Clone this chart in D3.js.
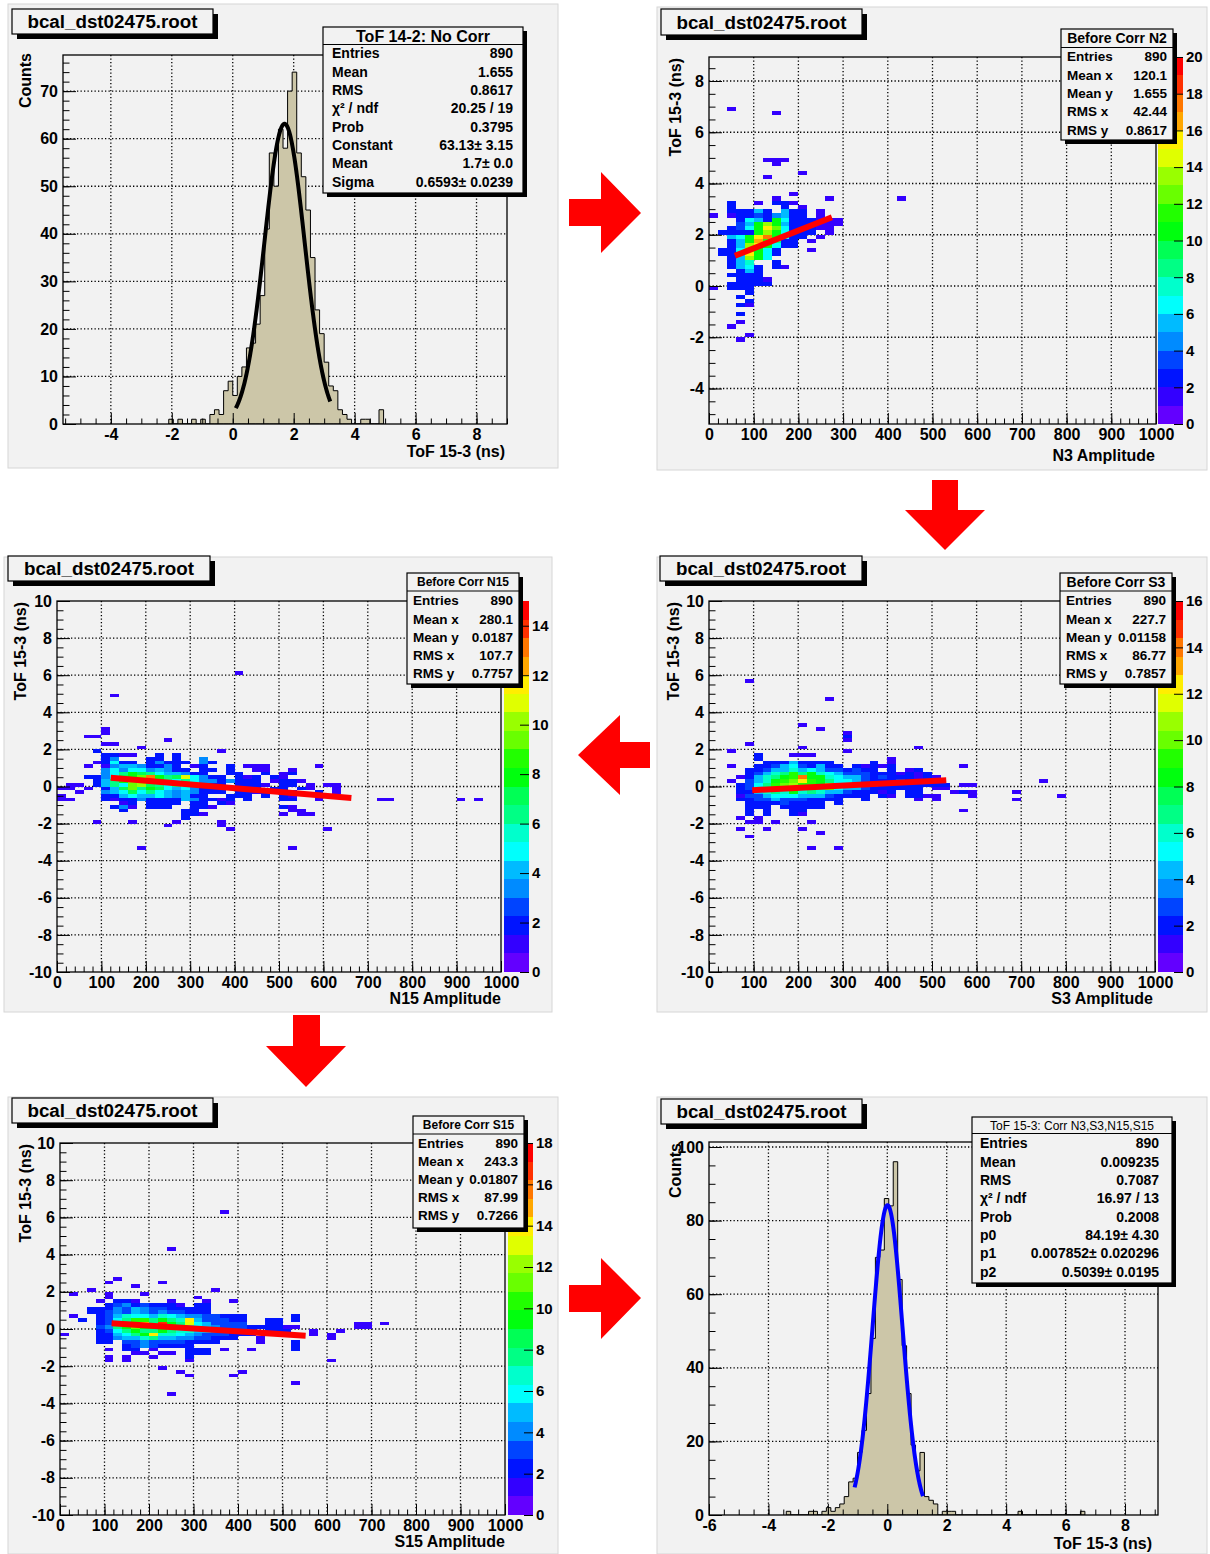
<!DOCTYPE html>
<html><head><meta charset="utf-8">
<script src="https://cdn.jsdelivr.net/npm/d3@7/dist/d3.min.js"></script>
<style>
html,body{margin:0;padding:0;background:#fff;}
svg{display:block;}
</style></head>
<body>
<svg id="chart" width="1210" height="1554" xmlns="http://www.w3.org/2000/svg"></svg>
<script>
// ===================== DATA =====================
const fileName = "bcal_dst02475.root";

// ---- Panel 1 : ToF 14-2, no correction (1D histogram) ----
const tof1Title = "ToF 14-2: No Corr";
const tof1XTitle = "ToF 15-3 (ns)";
const tof1YTitle = "Counts";
const tof1XRange = [-5.57, 9.0];
const tof1YRange = [0, 77.6];
const tof1XTicks = [-4, -2, 0, 2, 4, 6, 8];
const tof1YTicks = [0, 10, 20, 30, 40, 50, 60, 70];
const tof1BinStart = -2.1;
const tof1BinWidth = 0.15;
const tof1Counts = [1,0,1,0,0,1,0,1,0,2,3,2,7,9,6,10,12,16,17,21,27,41,57,50,62,58,70,74,57,52,45,35,24,19,13,8,7,3,2,1,0,0,1,1,0,0,3];
const tof1Fit = [63.13, 1.7, 0.6593];      // constant, mean, sigma
const tof1FitRange = [0.1, 3.2];
const tof1Stats = [["Entries","890"],["Mean","1.655"],["RMS","0.8617"],["\u03c7\u00b2 / ndf","20.25 / 19"],["Prob","0.3795"],["Constant","63.13\u00b1 3.15"],["Mean","1.7\u00b1 0.0"],["Sigma","0.6593\u00b1 0.0239"]];

// ---- Panel 6 : ToF 15-3 after corrections (1D histogram) ----
const tof6Title = "ToF 15-3: Corr N3,S3,N15,S15";
const tof6XRange = [-6, 9.11];
const tof6YRange = [0, 101.36];
const tof6XTicks = [-6, -4, -2, 0, 2, 4, 6, 8];
const tof6YTicks = [0, 20, 40, 60, 80, 100];
const tof6BinStart = -3.4;
const tof6BinWidth = 0.15;
const tof6Counts = [1,0,0,0,0,1,1,0,1,2,1,2,3,5,9,10,17,23,33,48,70,72,86,84,96,64,46,33,19,12,17,5,4,3,0,1,1,1,
  0,0,0,0,0,0,0,0,0,0,0,0,0,0,1,0,0,0,0,0,0,0,0,0,0,0,0,0,1];
const tof6Fit = [84.19, 0.007852, 0.5039]; // p0, p1, p2
const tof6FitRange = [-1.1, 1.2];
const tof6Stats = [["Entries","890"],["Mean","0.009235"],["RMS","0.7087"],["\u03c7\u00b2 / ndf","16.97 / 13"],["Prob","0.2008"],["p0","84.19\u00b1 4.30"],["p1","0.007852\u00b1 0.020296"],["p2","0.5039\u00b1 0.0195"]];

// ---- 2D panels: common axes ----
const ampRange = [0, 1000];
const ampTicks = [0, 100, 200, 300, 400, 500, 600, 700, 800, 900, 1000];
const tofTicks = [-10, -8, -6, -4, -2, 0, 2, 4, 6, 8, 10];
const tofYTitle = "ToF 15-3 (ns)";

// Rows of cells: [yBinIndex, firstXBinIndex, count, count, ...]
// ---- Panel 2 : Before Corr N2 (N3 amplitude) ----
const n3Title = "Before Corr N2";
const n3XTitle = "N3 Amplitude";
const n3YRange = [-5.385, 8.937];
const n3BinX = 20, n3BinY = 1/6;
const n3ZMax = 20;
const n3ZTicks = [0,2,4,6,8,10,12,14,16,18,20];
const n3Fit = [58, 275, 0.78, 0.00691];   // xFrom, xTo, a, b
const n3Stats = [["Entries","890"],["Mean x","120.1"],["Mean y","1.655"],["RMS x","42.44"],["RMS y","0.8617"]];
const n3Rows = [
[41,2,1],[40,7,1],[29,6,1,1,1],[28,7,1],[26,10,1],[25,6,1],[21,9,1],
[20,7,1],[20,13,1],[20,21,1],
[19,2,2],[19,5,1,0,2,2,1],
[18,2,2],[18,8,2,0,1],
[17,2,2,2,2,5,2,0,5,2,2],[17,12,1],
[16,0,1],[16,2,1,2,2,3,2,4,5,2,2],[16,12,1],
[15,3,2,6,5,2,10,6,2,2,2,1,1,1],
[14,3,3,5,10,13,10,5,2,2,2,1,1,1],
[13,2,2,3,6,10,15,12,6,2,2,2,1,1],
[12,1,2,2,2,2,10,13,10,6,2,2,2,0,1],
[11,2,5,6,10,15,17,10,6,2,2,0,1],
[10,2,2,5,10,16,11,8,2,2,0,1],
[9,2,2,5,13,15,10,6,2,2],
[8,1,2,2,6,13,10,6,2,0,0,0,1],
[7,1,2,2,5,15,10,6,2],
[6,2,2,5,13,10,6],
[5,2,2,5,7,0,0,2],
[4,2,2,5,6,2,0,2,1],
[3,3,2,5,2],
[2,2,2,2,2,2],
[1,3,2,2,2,1],
[0,2,2,2,2,2,2],
[-1,0,1,0,2,2,2],
[-2,4,2],[-3,3,2],[-4,4,2],[-5,3,2,1],[-7,3,2],[-9,3,1],[-10,2,1],[-12,4,1],[-13,3,1]
];

// ---- Panel 3 : Before Corr N15 ----
const n15Title = "Before Corr N15";
const n15XTitle = "N15 Amplitude";
const n15BinX = 20, n15BinY = 0.2;
const n15ZMax = 15;
const n15ZTicks = [0,2,4,6,8,10,12,14];
const n15Fit = [121, 663, 0.71, -0.0020];
const n15Stats = [["Entries","890"],["Mean x","280.1"],["Mean y","0.0187"],["RMS x","107.7"],["RMS y","0.7757"]];
const n15Rows = [
[30,20,1],[24,6,1],[15,5,1],[14,5,1],[13,3,1,1],[12,12,1],[11,5,1,1],[10,9,1],
[9,4,2],[9,18,1],
[8,5,2,2,1,1],[8,11,2],[8,13,2],
[7,5,2,3],[7,10,2,2,0,2],[7,16,3],
[6,4,1,2,5,2,2,0,2,3,2,2,2,0,3,2],
[5,3,1,0,1,3,4,4,3,2,2,3,2,0,1,2],[5,19,2,0,1,1,1],[5,29,1],
[4,5,3,5,3,5,5,3,4,3,2,2,0,2,2,0,2],[4,22,1,1],[4,26,1],
[3,5,3,5,6,8,7,6,5,4,4,3,2,2,0,0,2,2,0,0,2,0,1,2],
[2,3,2,2,3,5,7,8,9,13,8,6,7,11,5,3,2,2,0,2,1,2,0,2,1],
[1,4,2,4,6,8,9,10,8,8,6,5,6,5,3,3,2,3,2,2,2,0,1,2,2,1],
[0,1,1,1,0,2,4,6,5,9,10,7,6,5,6,5,4,3,2,2,0,2,2,2,1,0,2,2,0,1,0,1,1],
[-1,0,1,1,0,1,0,2,4,7,9,6,8,7,5,4,5,3,2,2,2,3,2,1,2,0,2,2,0,2,1,0,0,1],
[-2,2,1,0,0,3,4,5,7,5,6,5,4,3,4,3,2,2,2,0,2,2,1,2,0,2,2,0,0,2,0,1],
[-3,0,1,0,0,0,0,2,2,4,5,4,4,5,4,3,4,2,2,0,0,2,2,2,0,2,0,2,1,0,0,2],
[-4,0,1,1,0,0,0,2,1,2,2,3,2,2,2,2,4,3,2,2,1,2,0,2,0,0,0,2,2,0,0,1],[-4,36,1,1],[-4,45,1,0,1],
[-5,7,1,2,0,2,2,2,2,0,2,2,0,2,1],
[-6,6,2,3,1,0,2,2,2,0,0,2,2,1],[-6,25,2,1],
[-7,7,2],[-7,14,2,2],[-7,26,1,1],
[-8,14,2,2,1],[-8,25,1,0,1,1],
[-9,14,2],
[-10,4,1],[-10,8,1],[-10,13,1],[-10,18,1],
[-11,12,1],[-11,18,1],
[-12,19,1],[-12,30,1],
[-17,9,1],[-17,26,1]
];

// ---- Panel 4 : Before Corr S3 ----
const s3Title = "Before Corr S3";
const s3XTitle = "S3 Amplitude";
const s3BinX = 20, s3BinY = 0.2;
const s3ZMax = 16;
const s3ZTicks = [0,2,4,6,8,10,12,14,16];
const s3Fit = [97, 532, -0.32, 0.00124];
const s3Stats = [["Entries","890"],["Mean x","227.7"],["Mean y","0.01158"],["RMS x","86.77"],["RMS y","0.7857"]];
const s3Rows = [
[28,4,1],[23,13,1],[16,10,1],[15,12,1],
[14,15,1],[13,15,2],[12,15,1],[11,4,1],
[10,10,1],[10,23,1],[9,2,1],[9,15,1],
[8,5,2],[8,9,1,1,1],[7,5,2],[7,20,1],
[6,6,2,2,2,4,2,2,2,2],[6,18,2,0,1],
[5,2,1,0,0,2,2,3,4,5,3,2,4,2,2,0,2,1,2,1,2],[5,28,1],
[4,4,2,2,3,4,4,6,4,5,4,3,3,2,3,2,2,0,2,0,1,2],
[3,4,2,3,4,6,7,9,7,8,6,5,4,3,3,3,2,2,2,1,2,1,2],
[2,3,1,2,4,6,7,8,9,14,8,8,6,5,4,4,3,2,3,2,2,2,1,2,1],
[1,2,1,0,3,4,6,8,9,10,12,9,8,7,5,5,4,3,2,2,2,3,2,2,2,2],[1,37,1],
[0,3,2,3,5,7,9,10,11,9,9,8,11,5,4,4,3,3,2,2,2,2,2,2,2,2,0,1,1],
[-1,3,2,3,5,7,13,8,10,8,8,7,10,5,4,4,3,2,2,2,2,2,2,0,1,1],
[-2,3,2,2,4,6,7,6,8,6,7,6,4,4,3,2,2,2,1,2,0,2,2,0,0,0,1,2,1],[-2,34,1],
[-3,3,1,3,3,4,5,5,5,4,4,4,3,2,2,2,2,0,2,1,0,2,2,1,1,0,0,0,1],[-3,39,1],
[-4,3,2,2,3,3,4,3,3,3,2,2,2,2,0,0,2],[-4,23,1,0,1],[-4,34,1],
[-5,4,2,2,2,2,3,2,2,2,2,0,2],
[-6,4,2,2,2,0,2,2,2,2,2],
[-7,4,2,0,2,0,0,2,2],[-7,28,1],
[-8,4,2,0,2,0,0,2,1],
[-9,3,1,0,1],
[-10,4,1,1,0,1],[-10,11,1],
[-12,3,1],[-12,6,1],[-12,10,1],[-13,12,1],
[-14,4,1],
[-17,11,1],[-17,14,1]
];

// ---- Panel 5 : Before Corr S15 ----
const s15Title = "Before Corr S15";
const s15XTitle = "S15 Amplitude";
const s15BinX = 20, s15BinY = 0.2;
const s15ZMax = 18;
const s15ZTicks = [0,2,4,6,8,10,12,14,16,18];
const s15Fit = [116, 552, 0.49, -0.00154];
const s15Stats = [["Entries","890"],["Mean x","243.3"],["Mean y","0.01807"],["RMS x","87.99"],["RMS y","0.7266"]];
const s15Rows = [
[31,18,1],[21,12,1],
[13,6,1],[12,5,1],[12,11,1],[11,8,1],
[10,3,1],[10,17,1],
[9,1,1],[9,5,1],[9,9,1],[8,5,1],[8,15,1],
[7,4,1,0,2,2,1],[7,12,1],[7,16,1],[7,19,1],
[6,5,2,3,4,2,3,2,2,2,1,0,2,2],
[5,3,2,2,2,4,3,5,4,3,3,2,2,2,2,2],
[4,3,2,2,3,4,3,5,4,3,4,3,3,2,2,2],
[3,1,1,0,0,2,3,5,7,6,6,5,7,6,5,4,4,3,3,2,2,2],[3,26,2],
[2,2,2,0,2,3,6,8,10,10,8,9,8,7,14,5,3,3,3,2,2],[2,23,2,2,0,2],
[1,4,2,3,7,8,9,14,8,17,9,8,13,6,5,3,3,3,3],[1,23,2,2],[1,33,1,1,0,1],
[0,4,3,4,8,9,11,9,9,10,9,8,7,6,5,4,3,3,3,2,2,2,2,1,1],[0,33,1,1],
[-1,4,2,3,6,8,9,8,8,9,8,7,7,5,5,4,3,3,3,2,0,2,2,2],[-1,28,1,0,0,1],
[-2,0,1],[-2,4,2,2,5,6,8,9,14,7,7,6,5,4,3,3,3,2,2,2],[-2,28,1,0,1],
[-3,4,2,2,4,5,5,7,8,5,5,4,4,3,3,2,2,2,0,0,1],[-3,30,1],
[-4,4,2,2,0,3,3,4,3,3,3,3,2,2,2,2,0,0,0,0,1],[-4,26,2],
[-5,7,2,3,4,3,2,2,2,2],[-5,26,2],
[-6,5,1,0,2,2,0,1,0,0,0,2,2,2,0,1,0,0,1],[-6,26,2],
[-7,8,1,1,0,1,1,0,2,2,2],
[-8,5,1,0,1,0,0,1,0,0,0,2],
[-9,5,1,0,1,0,0,0,0,0,0,1],[-9,30,1],
[-11,11,1],
[-12,13,1],[-12,20,1],
[-13,14,1],[-13,19,1],
[-15,26,1],
[-18,12,1]
];

// ===================== DRAWING =====================
const FONT = '"Liberation Sans", Arial, Helvetica, sans-serif';
const BG = "#f2f2f2";
const svg = d3.select("#chart");
const defs = svg.append("defs");
let clipN = 0;

function level(c, zmax){ return Math.max(0, Math.min(19, Math.floor(0.01 + c * 20 / zmax))); }
function levelColor(l){ const idx = Math.floor((l + 0.99) * 50 / 20); const hue = 280 - (idx + 1) * 5.6; return d3.hsl(hue, 1, 0.5).formatHex(); }
const inDomain = (v, d) => v >= Math.min(d[0], d[1]) - 1e-9 && v <= Math.max(d[0], d[1]) + 1e-9;

function drawCanvas(c){
  svg.append("rect").attr("x",c[0]).attr("y",c[1]).attr("width",c[2]).attr("height",c[3])
    .attr("fill",BG).attr("stroke","#d6d6d6").attr("stroke-width",1);
}
function drawTitleBox(b, text){
  svg.append("rect").attr("x",b[0]+5).attr("y",b[1]+5).attr("width",b[2]).attr("height",b[3]).attr("fill","#000");
  svg.append("rect").attr("x",b[0]).attr("y",b[1]).attr("width",b[2]).attr("height",b[3])
    .attr("fill",BG).attr("stroke","#000").attr("stroke-width",1.2);
  svg.append("text").attr("x",b[0]+b[2]/2).attr("y",b[1]+b[3]/2+6.7).attr("text-anchor","middle")
    .attr("font-family",FONT).attr("font-weight","bold").attr("font-size",18.8).text(text);
}
function drawStats(s, title, rows){
  svg.append("rect").attr("x",s.x+4).attr("y",s.y+4).attr("width",s.w).attr("height",s.h).attr("fill","#000");
  svg.append("rect").attr("x",s.x).attr("y",s.y).attr("width",s.w).attr("height",s.h)
    .attr("fill",BG).attr("stroke","#000").attr("stroke-width",1.2);
  svg.append("line").attr("x1",s.x).attr("x2",s.x+s.w).attr("y1",s.sep).attr("y2",s.sep).attr("stroke","#000").attr("stroke-width",1.2);
  svg.append("text").attr("x",s.x+s.w/2).attr("y",(s.y+s.sep)/2+0.36*s.ts).attr("text-anchor","middle")
    .attr("font-family",FONT).attr("font-weight",s.tw).attr("font-size",s.ts).text(title);
  rows.forEach((r,i)=>{
    const yy = s.r0 + i*s.rs + 0.36*s.fs;
    svg.append("text").attr("x",s.lx).attr("y",yy).attr("font-family",FONT).attr("font-weight","bold").attr("font-size",s.fs).text(r[0]);
    svg.append("text").attr("x",s.vx).attr("y",yy).attr("text-anchor","end").attr("font-family",FONT).attr("font-weight","bold").attr("font-size",s.fs).text(r[1]);
  });
}
function axisTitles(L, xt, yt){
  svg.append("text").attr("transform",`translate(${L.yTitle[0]},${L.yTitle[1]}) rotate(-90)`).attr("text-anchor","end")
    .attr("font-family",FONT).attr("font-weight","bold").attr("font-size",16).text(yt);
  svg.append("text").attr("x",L.xTitle[0]).attr("y",L.xTitle[1]).attr("text-anchor","end")
    .attr("font-family",FONT).attr("font-weight","bold").attr("font-size",16).text(xt);
}
function makeFrame(f, xDomain, yDomain, xTicks, yTicks){
  const g = svg.append("g").attr("transform",`translate(${f[0]},${f[1]})`);
  const W = f[2], H = f[3];
  const xs = d3.scaleLinear().domain(xDomain).range([0,W]);
  const ys = d3.scaleLinear().domain(yDomain).range([H,0]);
  const xT = xTicks.filter(v => inDomain(v, xDomain));
  const yT = yTicks.filter(v => inDomain(v, yDomain));
  const id = "clip" + (clipN++);
  defs.append("clipPath").attr("id",id).append("rect").attr("width",W).attr("height",H);
  const grid = g.append("g").attr("stroke","#000").attr("stroke-width",1.3).attr("stroke-dasharray","1.3,2.2");
  xT.forEach(v=>{ const x = xs(v); if (x > 1 && x < W-1) grid.append("line").attr("x1",x).attr("x2",x).attr("y1",0).attr("y2",H); });
  yT.forEach(v=>{ const y = ys(v); if (y > 1 && y < H-1) grid.append("line").attr("x1",0).attr("x2",W).attr("y1",y).attr("y2",y); });
  const content = g.append("g").attr("clip-path",`url(#${id})`);
  return {g, xs, ys, W, H, content, xDomain, yDomain, xTicks:xT, yTicks:yT};
}
function finishAxes(P, xMinorStep, yMinorStep){
  const {g, xs, ys, W, H} = P;
  const fmt = v => (Math.abs(v) < 1e-9 ? "0" : String(v));
  const mk = (d, step) => d3.range(Math.ceil(d[0]/step - 1e-9)*step, d[1] + 1e-9, step).filter(v => inDomain(v, d));
  const style = s => s.attr("font-size",16).attr("font-family",FONT).attr("font-weight","bold");
  g.append("g").attr("transform",`translate(0,${H})`)
    .call(d3.axisBottom(xs).tickValues(mk(P.xDomain, xMinorStep)).tickSize(-5.5).tickFormat(""))
    .call(a=>a.select(".domain").remove());
  g.append("g").attr("transform",`translate(0,${H})`)
    .call(d3.axisBottom(xs).tickValues(P.xTicks).tickSize(-11).tickPadding(5).tickFormat(fmt))
    .call(a=>a.select(".domain").remove()).call(style);
  g.append("g")
    .call(d3.axisLeft(ys).tickValues(mk(P.yDomain, yMinorStep)).tickSize(-6.5).tickFormat(""))
    .call(a=>a.select(".domain").remove());
  g.append("g")
    .call(d3.axisLeft(ys).tickValues(P.yTicks).tickSize(-13).tickPadding(5).tickFormat(fmt))
    .call(a=>a.select(".domain").remove()).call(style);
  g.append("rect").attr("width",W).attr("height",H).attr("fill","none").attr("stroke","#000").attr("stroke-width",1.3);
}

function panel1D(L, D){
  drawCanvas(L.canvas);
  const P = makeFrame(L.frame, D.xRange, D.yRange, D.xTicks, D.yTicks);
  const bins = D.counts.map((c,i)=>[D.start + i*D.width, c]);
  bins.push([D.start + D.counts.length*D.width, D.counts[D.counts.length-1]]);
  const area = d3.area().curve(d3.curveStepAfter).x(d=>P.xs(d[0])).y0(P.ys(0)).y1(d=>P.ys(d[1]));
  P.content.append("path").attr("d",area(bins)).attr("fill","#ccc6a8").attr("stroke","#000").attr("stroke-width",1);
  const gauss = x => D.fit[0]*Math.exp(-0.5*Math.pow((x - D.fit[1])/D.fit[2],2));
  const xsF = d3.range(0, 201).map(i => D.fitRange[0] + (D.fitRange[1]-D.fitRange[0])*i/200);
  P.content.append("path").attr("d", d3.line().x(x=>P.xs(x)).y(x=>P.ys(gauss(x)))(xsF))
    .attr("fill","none").attr("stroke",D.fitColor).attr("stroke-width",4).attr("stroke-linejoin","round");
  finishAxes(P, D.xMinor, D.yMinor);
  axisTitles(L, D.xTitle, D.yTitle);
  drawTitleBox(L.titleBox, fileName);
  drawStats(L.stats, D.title, D.stats);
}

function panel2D(L, D){
  drawCanvas(L.canvas);
  const P = makeFrame(L.frame, ampRange, D.yRange, ampTicks, D.yTicks);
  const cg = P.content.append("g").attr("shape-rendering","crispEdges");
  D.rows.forEach(r=>{
    const iy = r[0], ix0 = r[1];
    r.slice(2).forEach((c,k)=>{
      if (c <= 0) return;
      const ix = ix0 + k;
      const x0 = P.xs(ix*D.bx), x1 = P.xs((ix+1)*D.bx);
      const yT = P.ys((iy+1)*D.by), yB = P.ys(iy*D.by);
      cg.append("rect").attr("x",x0).attr("y",yT).attr("width",x1-x0).attr("height",yB-yT)
        .attr("fill",levelColor(level(c, D.zmax)));
    });
  });
  const f = D.fit;
  P.content.append("path").attr("d", d3.line().x(d=>P.xs(d)).y(d=>P.ys(f[2]+f[3]*d))([f[0], f[1]]))
    .attr("fill","none").attr("stroke","#ff0000").attr("stroke-width",6);
  finishAxes(P, 20, 0.5);
  // palette
  const [fx, fy, fw, fh] = L.frame;
  const zs = d3.scaleLinear().domain([0, D.zmax]).range([fy+fh, fy]);
  const pg = svg.append("g").attr("shape-rendering","crispEdges");
  for (let l = 0; l < 20; l++){
    const z0 = l*D.zmax/20, z1 = (l+1)*D.zmax/20;
    pg.append("rect").attr("x",L.palette[0]).attr("y",zs(z1)).attr("width",L.palette[1]).attr("height",zs(z0)-zs(z1)).attr("fill",levelColor(l));
  }
  svg.append("g").attr("transform",`translate(${L.palette[0]+L.palette[1]},0)`)
    .call(d3.axisRight(zs).tickValues(D.zTicks).tickSize(-9).tickPadding(3).tickFormat(d=>String(d)))
    .call(a=>a.select(".domain").remove())
    .attr("font-size",15).attr("font-family",FONT).attr("font-weight","bold");
  axisTitles(L, D.xTitle, tofYTitle);
  drawTitleBox(L.titleBox, fileName);
  drawStats(L.stats, D.title, D.stats);
}

// ---------- panels ----------
panel1D({
  canvas:[8,4,550,464], titleBox:[12,9,201,25], frame:[63,55,444,369],
  stats:{x:323,y:27,w:200,h:166,sep:44.5,ts:16,tw:"bold",r0:53.3,rs:18.35,fs:14,lx:332,vx:513},
  yTitle:[31,53], xTitle:[505,457]
},{
  xRange:tof1XRange, yRange:tof1YRange, xTicks:tof1XTicks, yTicks:tof1YTicks, xMinor:0.5, yMinor:2,
  start:tof1BinStart, width:tof1BinWidth, counts:tof1Counts, fit:tof1Fit, fitRange:tof1FitRange, fitColor:"#000000",
  title:tof1Title, stats:tof1Stats, xTitle:tof1XTitle, yTitle:tof1YTitle
});

panel2D({
  canvas:[657,7,550,463], titleBox:[661,9,201,26], frame:[709,57,447,367], palette:[1158,25],
  stats:{x:1061,y:29,w:112,h:111,sep:47.5,ts:14,tw:"bold",r0:56.5,rs:18.3,fs:13.5,lx:1067,vx:1167},
  yTitle:[681,58], xTitle:[1155,461]
},{
  yRange:n3YRange, yTicks:tofTicks, rows:n3Rows, bx:n3BinX, by:n3BinY, zmax:n3ZMax, zTicks:n3ZTicks,
  fit:n3Fit, title:n3Title, stats:n3Stats, xTitle:n3XTitle
});

panel2D({
  canvas:[4,557,548,455], titleBox:[8,556,202,25], frame:[57,601,444,371], palette:[504,25],
  stats:{x:407,y:573,w:112,h:111,sep:591,ts:12,tw:"bold",r0:600.5,rs:18.2,fs:13.5,lx:413,vx:513},
  yTitle:[26,602], xTitle:[501,1004]
},{
  yRange:[-10,10], yTicks:tofTicks, rows:n15Rows, bx:n15BinX, by:n15BinY, zmax:n15ZMax, zTicks:n15ZTicks,
  fit:n15Fit, title:n15Title, stats:n15Stats, xTitle:n15XTitle
});

panel2D({
  canvas:[657,557,550,455], titleBox:[660,556,202,25], frame:[709,601,446,371], palette:[1158,25],
  stats:{x:1060,y:573,w:112,h:111,sep:591,ts:14,tw:"bold",r0:600.5,rs:18.2,fs:13.5,lx:1066,vx:1166},
  yTitle:[679,602], xTitle:[1153,1004]
},{
  yRange:[-10,10], yTicks:tofTicks, rows:s3Rows, bx:s3BinX, by:s3BinY, zmax:s3ZMax, zTicks:s3ZTicks,
  fit:s3Fit, title:s3Title, stats:s3Stats, xTitle:s3XTitle
});

panel2D({
  canvas:[8,1097,550,457], titleBox:[12,1098,201,25], frame:[60,1143,445,372], palette:[508,25],
  stats:{x:413,y:1116,w:111,h:112,sep:1134,ts:12,tw:"bold",r0:1143.5,rs:18,fs:13.5,lx:418,vx:518},
  yTitle:[31,1144], xTitle:[505,1547]
},{
  yRange:[-10,10], yTicks:tofTicks, rows:s15Rows, bx:s15BinX, by:s15BinY, zmax:s15ZMax, zTicks:s15ZTicks,
  fit:s15Fit, title:s15Title, stats:s15Stats, xTitle:s15XTitle
});

panel1D({
  canvas:[657,1097,550,457], titleBox:[661,1099,201,25], frame:[709,1142,449,373],
  stats:{x:972,y:1117,w:200,h:166,sep:1133.5,ts:12,tw:"normal",r0:1143.3,rs:18.35,fs:14,lx:980,vx:1159},
  yTitle:[681,1143], xTitle:[1152,1549]
},{
  xRange:tof6XRange, yRange:tof6YRange, xTicks:tof6XTicks, yTicks:tof6YTicks, xMinor:0.5, yMinor:5,
  start:tof6BinStart, width:tof6BinWidth, counts:tof6Counts, fit:tof6Fit, fitRange:tof6FitRange, fitColor:"#0000ff",
  title:tof6Title, stats:tof6Stats, xTitle:tof1XTitle, yTitle:tof1YTitle
});

// ---------- red arrows ----------
const arrows = [
  [[569,199],[601,199],[601,172],[641,213],[601,253],[601,226],[569,226]],
  [[932,480],[958,480],[958,510],[985,510],[945,550],[905,510],[932,510]],
  [[650,742],[620,742],[620,715],[578,755],[620,795],[620,768],[650,768]],
  [[293,1015],[320,1015],[320,1046],[346,1046],[306,1087],[266,1046],[293,1046]],
  [[569,1285],[601,1285],[601,1258],[641,1298],[601,1339],[601,1312],[569,1312]]
];
arrows.forEach(a => svg.append("polygon").attr("points", a.map(p=>p.join(",")).join(" ")).attr("fill","#ff0000"));
</script>
</body></html>
